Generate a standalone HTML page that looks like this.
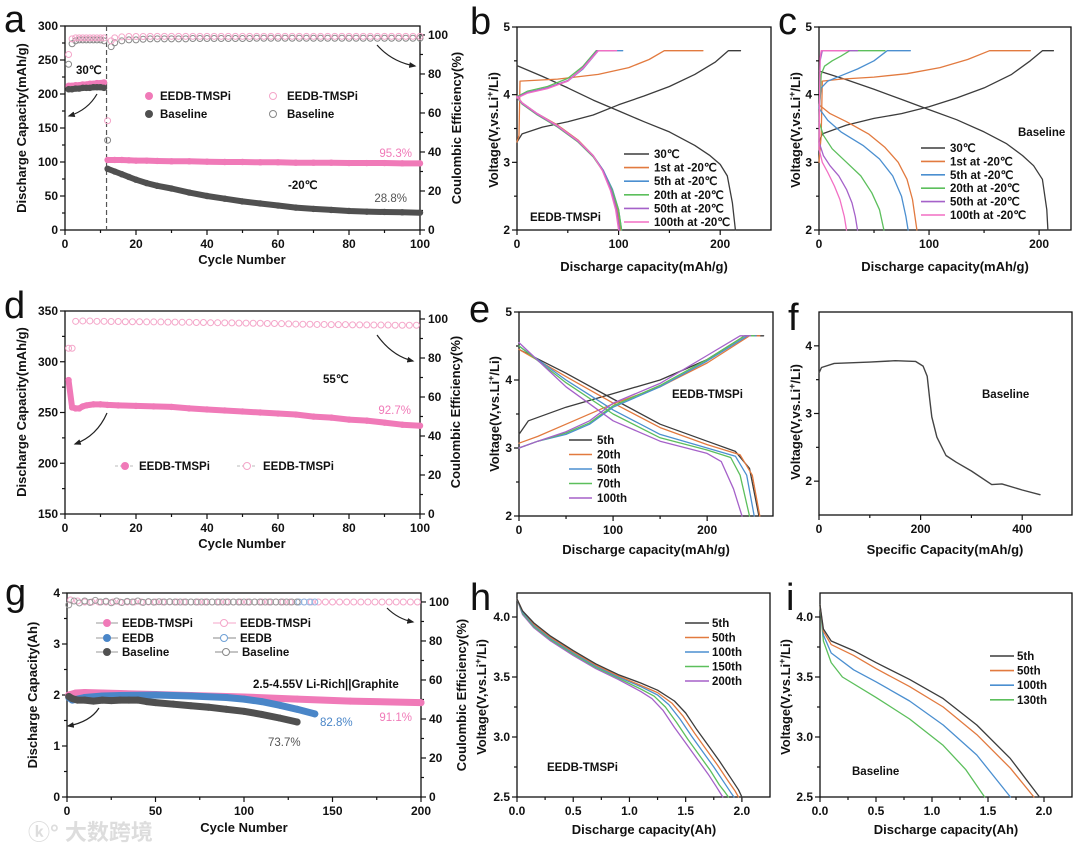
<!DOCTYPE html>
<html><head><meta charset="utf-8"><style>
html,body{margin:0;padding:0;background:#fff}
svg{display:block}
text{font-family:"Liberation Sans",Arial,sans-serif;font-weight:bold;fill:#111}
.lt{font-size:38px;font-weight:normal}
.tt{font-size:13px}
.lg{font-size:11.5px}
</style></head><body>
<svg id="fig" width="1080" height="851" viewBox="0 0 1080 851" xmlns="http://www.w3.org/2000/svg">
<defs><marker id="ah" viewBox="0 0 10 10" refX="8" refY="5" markerWidth="6" markerHeight="6" orient="auto"><path d="M0,1 L10,5 L0,9 z" fill="#222"/></marker></defs>

<text class="lt" x="4" y="32">a</text>
<text class="lt" x="470" y="34">b</text>
<text class="lt" x="778" y="34">c</text>
<text class="lt" x="4" y="318">d</text>
<text class="lt" x="469" y="322">e</text>
<text class="lt" x="788" y="330">f</text>
<text class="lt" x="5" y="605">g</text>
<text class="lt" x="470" y="610">h</text>
<text class="lt" x="786" y="610">i</text>

<text class="tt" x="242" y="264" text-anchor="middle">Cycle Number</text>
<text class="tt" transform="translate(26,128) rotate(-90)" text-anchor="middle">Discharge Capacity(mAh/g)</text>
<text class="tt" transform="translate(461,128) rotate(-90)" text-anchor="middle">Coulombic Efficiency(%)</text>
<text class="tt" x="644" y="271" text-anchor="middle">Discharge capacity(mAh/g)</text>
<text class="tt" transform="translate(498,130) rotate(-90)" text-anchor="middle">Voltage(V,vs.Li<tspan dy="-5" font-size="9">+</tspan><tspan dy="5">/Li)</tspan></text>
<text class="tt" x="945" y="271" text-anchor="middle">Discharge capacity(mAh/g)</text>
<text class="tt" transform="translate(800,130) rotate(-90)" text-anchor="middle">Voltage(V,vs.Li<tspan dy="-5" font-size="9">+</tspan><tspan dy="5">/Li)</tspan></text>
<text class="tt" x="242" y="548" text-anchor="middle">Cycle Number</text>
<text class="tt" transform="translate(26,412) rotate(-90)" text-anchor="middle">Discharge Capacity(mAh/g)</text>
<text class="tt" transform="translate(460,412) rotate(-90)" text-anchor="middle">Coulombic Efficiency(%)</text>
<text class="tt" x="646" y="554" text-anchor="middle">Discharge capacity(mAh/g)</text>
<text class="tt" transform="translate(499,414) rotate(-90)" text-anchor="middle">Voltage(V,vs.Li<tspan dy="-5" font-size="9">+</tspan><tspan dy="5">/Li)</tspan></text>
<text class="tt" x="945" y="554" text-anchor="middle">Specific Capacity(mAh/g)</text>
<text class="tt" transform="translate(800,422) rotate(-90)" text-anchor="middle">Voltage(V,vs.Li<tspan dy="-5" font-size="9">+</tspan><tspan dy="5">/Li)</tspan></text>
<text class="tt" x="244" y="832" text-anchor="middle">Cycle Number</text>
<text class="tt" transform="translate(37,695) rotate(-90)" text-anchor="middle">Discharge Capacity(Ah)</text>
<text class="tt" transform="translate(466,695) rotate(-90)" text-anchor="middle">Coulombic Efficiency(%)</text>
<text class="tt" x="644" y="834" text-anchor="middle">Discharge capacity(Ah)</text>
<text class="tt" transform="translate(486,697) rotate(-90)" text-anchor="middle">Voltage(V,vs.Li<tspan dy="-5" font-size="9">+</tspan><tspan dy="5">/Li)</tspan></text>
<text class="tt" x="946" y="834" text-anchor="middle">Discharge capacity(Ah)</text>
<text class="tt" transform="translate(790,697) rotate(-90)" text-anchor="middle">Voltage(V,vs.Li<tspan dy="-5" font-size="9">+</tspan><tspan dy="5">/Li)</tspan></text>

<text class="lg" x="76" y="74">30℃</text>
<text class="lg" x="288" y="189">-20℃</text>
<text x="412" y="157" font-size="11.5" text-anchor="end" style="fill:#f07ab8;font-weight:normal">95.3%</text>
<text x="407" y="202" font-size="11.5" text-anchor="end" style="fill:#555;font-weight:normal">28.8%</text>
<text class="lg" x="323" y="383">55℃</text>
<text x="411" y="414" font-size="11.5" text-anchor="end" style="fill:#f07ab8;font-weight:normal">92.7%</text>
<text class="lg" x="253" y="688">2.5-4.55V  Li-Rich||Graphite</text>
<text x="412" y="721" font-size="11.5" text-anchor="end" style="fill:#f07ab8;font-weight:normal">91.1%</text>
<text x="320" y="726" font-size="11.5" style="fill:#4a86c8;font-weight:normal">82.8%</text>
<text x="268" y="746" font-size="11.5" style="fill:#555;font-weight:normal">73.7%</text>
<text class="lg" x="530" y="221">EEDB-TMSPi</text>
<text class="lg" x="1018" y="136">Baseline</text>
<text class="lg" x="672" y="398">EEDB-TMSPi</text>
<text class="lg" x="982" y="398">Baseline</text>
<text class="lg" x="547" y="771">EEDB-TMSPi</text>
<text class="lg" x="852" y="775">Baseline</text>

<path d="M97,94 Q88,110 69,116" fill="none" stroke="#222" stroke-width="1.2" marker-end="url(#ah)"/>
<path d="M377,45 Q392,62 415,66" fill="none" stroke="#222" stroke-width="1.2" marker-end="url(#ah)"/>
<path d="M107,413 Q97,436 75,444" fill="none" stroke="#222" stroke-width="1.2" marker-end="url(#ah)"/>
<path d="M377,335 Q392,356 413,361" fill="none" stroke="#222" stroke-width="1.2" marker-end="url(#ah)"/>
<path d="M99,708 Q90,722 68,726" fill="none" stroke="#222" stroke-width="1.2" marker-end="url(#ah)"/>
<path d="M387,608 Q398,619 413,622" fill="none" stroke="#222" stroke-width="1.2" marker-end="url(#ah)"/>

<g>
<circle cx="149" cy="96" r="4" fill="#f07ab8"/><text class="lg" x="160" y="100">EEDB-TMSPi</text>
<circle cx="149" cy="114" r="4" fill="#505050"/><text class="lg" x="160" y="118">Baseline</text>
<circle cx="273" cy="96" r="3.5" fill="#fff" stroke="#f4a6c9"/><text class="lg" x="287" y="100">EEDB-TMSPi</text>
<circle cx="273" cy="114" r="3.5" fill="#fff" stroke="#888"/><text class="lg" x="287" y="118">Baseline</text>
</g>
<g>
<line x1="115" y1="466" x2="135" y2="466" stroke="#bbb" stroke-dasharray="3,2"/><circle cx="125" cy="466" r="4" fill="#f07ab8"/><text class="lg" x="139" y="470">EEDB-TMSPi</text>
<line x1="237" y1="466" x2="257" y2="466" stroke="#bbb" stroke-dasharray="3,2"/><circle cx="247" cy="466" r="3.5" fill="#fff" stroke="#f4a6c9"/><text class="lg" x="263" y="470">EEDB-TMSPi</text>
</g>
<g>
<line x1="96" y1="623" x2="118" y2="623" stroke="#999"/><circle cx="107" cy="623" r="4" fill="#f07ab8"/><text class="lg" x="122" y="627">EEDB-TMSPi</text>
<line x1="96" y1="638" x2="118" y2="638" stroke="#999"/><circle cx="107" cy="638" r="4" fill="#4a86c8"/><text class="lg" x="122" y="642">EEDB</text>
<line x1="96" y1="652" x2="118" y2="652" stroke="#999"/><circle cx="107" cy="652" r="4" fill="#505050"/><text class="lg" x="122" y="656">Baseline</text>
<line x1="213" y1="623" x2="236" y2="623" stroke="#f4a6c9"/><circle cx="224" cy="623" r="3.5" fill="#fff" stroke="#f4a6c9"/><text class="lg" x="240" y="627">EEDB-TMSPi</text>
<line x1="213" y1="638" x2="236" y2="638" stroke="#888"/><circle cx="224" cy="638" r="3.5" fill="#fff" stroke="#6ea0d6"/><text class="lg" x="240" y="642">EEDB</text>
<line x1="215" y1="652" x2="238" y2="652" stroke="#888"/><circle cx="226" cy="652" r="3.5" fill="#fff" stroke="#888"/><text class="lg" x="242" y="656">Baseline</text>
</g>

<text x="28" y="840" font-size="22" style="fill:#ddd;font-family:'Liberation Sans','Noto Sans CJK SC',sans-serif">ⓚ° 大数跨境</text>
</svg>

<script>
const aCyc30 = [1,2,3,4,5,6,7,8,9,10,11];
const aCapT30 = [212,212,213,213,214,214,215,215,216,216,217];
const aCapB30 = [207,207,208,208,209,209,209,210,210,210,209];
const aCyc20 = [12,14,16,18,20,23,26,30,35,40,45,50,55,60,65,70,75,80,85,90,95,100];
const aCapT20 = [103,103,103,102.5,102,102,101.5,101,101,100.5,100,100,99.5,99.5,99,99,99,98.5,98.5,98.5,98,98];
const aCapB20 = [90,86,82,78,74,69,65,61,55,50,46,42,39,36,33,31,29.5,28,27,26.5,26,25.5];
const aCeCyc = [1,2,3,4,5,6,7,8,9,10,11,12,13,14,16,18,20,22,24,26,28,30,32,34,36,38,40,42,44,46,48,50,52,54,56,58,60,62,64,66,68,70,72,74,76,78,80,82,84,86,88,90,92,94,96,98,100];
const aCeT = [90,98,98.5,98.5,98.5,98.5,98.5,98.5,98.5,98.5,98.5,56,97,98.5,99,99.2,99.2,99.2,99.3,99.3,99.3,99.3,99.3,99.3,99.3,99.3,99.3,99.3,99.3,99.3,99.3,99.3,99.3,99.3,99.3,99.3,99.3,99.3,99.3,99.3,99.3,99.3,99.3,99.3,99.3,99.3,99.3,99.3,99.3,99.3,99.3,99.3,99.3,99.3,99.3,99.3,99.3];
const aCeB = [85,95.5,97,97.5,97.5,97.5,97.5,97.5,97.5,97.5,97,46,94,96,97,97.5,97.5,97.8,98,98,98,98,98,98,98.2,98.2,98.2,98.2,98.2,98.2,98.2,98.2,98.2,98.3,98.3,98.3,98.3,98.3,98.3,98.3,98.3,98.3,98.3,98.3,98.3,98.3,98.3,98.3,98.3,98.3,98.3,98.3,98.3,98.3,98.3,98.3,98.3];
const aXTicks = [0,20,40,60,80,100];
const aYTicks = [0,50,100,150,200,250,300];
const aY2Ticks = [0,20,40,60,80,100];

const b30Dis = [[0,4.43],[25,4.27],[50,4.1],[75,3.92],[100,3.76],[125,3.6],[150,3.45],[175,3.25],[190,3.1],[200,2.97],[207,2.8],[212,2.4],[215,2.0]];
const b30Chg = [[0,3.3],[5,3.42],[25,3.52],[50,3.6],[75,3.7],[100,3.85],[125,3.98],[150,4.12],[175,4.3],[195,4.48],[208,4.65],[220,4.65]];
const b1Chg = [[0,3.3],[2,3.4],[3,4.2],[40,4.23],[80,4.3],[110,4.4],[130,4.52],[145,4.65],[183,4.65]];
const b1Dis = [[0,3.98],[5,3.88],[20,3.72],[40,3.55],[60,3.33],[75,3.1],[85,2.88],[93,2.6],[99,2.3],[102,2.0]];
const b5Chg = [[0,3.95],[10,4.03],[30,4.1],[50,4.2],[65,4.38],[80,4.65],[104,4.65]];
const b5Dis = [[0,3.97],[5,3.88],[20,3.72],[40,3.54],[60,3.32],[75,3.1],[85,2.88],[94,2.6],[100,2.3],[103,2.0]];
const b20Chg = [[0,3.97],[10,4.05],[30,4.12],[50,4.24],[65,4.42],[78,4.65],[90,4.65]];
const b20Dis = [[0,3.96],[5,3.86],[20,3.7],[40,3.52],[60,3.3],[75,3.08],[85,2.86],[94,2.58],[100,2.3],[103,2.0]];
const b50Chg = [[0,3.96],[10,4.03],[30,4.1],[50,4.21],[65,4.4],[79,4.65],[95,4.65]];
const b50Dis = [[0,3.97],[5,3.87],[20,3.71],[40,3.53],[60,3.31],[75,3.09],[85,2.87],[93,2.58],[98,2.3],[101,2.0]];
const b100Chg = [[0,3.95],[10,4.02],[30,4.09],[50,4.2],[65,4.39],[80,4.65],[98,4.65]];
const b100Dis = [[0,3.97],[5,3.88],[20,3.72],[40,3.54],[60,3.32],[75,3.1],[84,2.88],[92,2.58],[97,2.3],[100,2.0]];
const bXTicks = [0,100,200];
const bYTicks = [2,3,4,5];

const c30Dis = [[0,4.35],[25,4.22],[50,4.08],[75,3.93],[100,3.78],[125,3.63],[150,3.45],[170,3.28],[185,3.1],[195,2.95],[203,2.75],[207,2.3],[208,2.0]];
const c30Chg = [[0,3.3],[3,3.42],[25,3.55],[50,3.65],[75,3.72],[100,3.82],[125,3.95],[150,4.1],[175,4.3],[192,4.5],[203,4.65],[213,4.65]];
const c1Chg = [[0,3.0],[2,3.4],[3,4.2],[20,4.23],[50,4.26],[80,4.31],[110,4.4],[135,4.52],[155,4.65],[192,4.65]];
const c1Dis = [[0,3.85],[10,3.72],[25,3.6],[45,3.42],[60,3.22],[72,3.0],[80,2.75],[85,2.45],[89,2.0]];
const c5Chg = [[0,3.8],[2,4.1],[8,4.2],[20,4.28],[35,4.38],[50,4.5],[62,4.65],[83,4.65]];
const c5Dis = [[0,3.8],[8,3.62],[20,3.45],[40,3.25],[55,3.05],[67,2.8],[75,2.5],[79,2.2],[81,2.0]];
const c20Chg = [[0,3.6],[2,4.3],[5,4.42],[12,4.5],[20,4.57],[28,4.65],[60,4.65]];
const c20Dis = [[0,3.6],[4,3.4],[12,3.2],[25,3.0],[38,2.8],[48,2.55],[55,2.3],[59,2.0]];
const c50Chg = [[0,3.3],[1,4.5],[3,4.65],[35,4.65]];
const c50Dis = [[0,3.3],[4,3.1],[10,2.95],[18,2.8],[25,2.6],[30,2.4],[33,2.2],[35,2.0]];
const c100Chg = [[0,3.2],[1,4.55],[2,4.65],[26,4.65]];
const c100Dis = [[0,3.2],[3,3.0],[8,2.85],[14,2.65],[19,2.45],[23,2.2],[25,2.0]];

const dCyc = [1,2,3,4,5,6,8,10,12,15,20,25,30,35,40,45,50,55,60,65,70,75,80,85,90,95,100];
const dCap = [282,255,254,254,256,257,258,258,257.5,257,256.5,256,255.5,254,253,252,251,250,249,248,246,245,243,242,240,238,237];
const dCeCyc = [1,2,3,5,7,9,11,13,15,17,19,21,23,25,27,29,31,33,35,37,39,41,43,45,47,49,51,53,55,57,59,61,63,65,67,69,71,73,75,77,79,81,83,85,87,89,91,93,95,97,99];
const dCe = [85,85,98.8,99,99,98.8,98.8,98.7,98.7,98.6,98.6,98.6,98.5,98.5,98.5,98.4,98.4,98.3,98.3,98.2,98.2,98.1,98.1,98,98,97.9,97.9,97.8,97.8,97.7,97.7,97.6,97.5,97.4,97.3,97.3,97.2,97.2,97.1,97.1,97.1,97,97,97,96.9,96.9,96.9,96.8,96.8,96.8,96.8];
const dXTicks = [0,20,40,60,80,100];
const dYTicks = [150,200,250,300,350];
const dY2Ticks = [0,20,40,60,80,100];

const e5Chg = [[0,3.2],[10,3.4],[50,3.6],[100,3.8],[150,4.0],[200,4.3],[240,4.65],[260,4.65]];
const e20Chg = [[0,3.07],[20,3.17],[50,3.35],[100,3.65],[150,3.9],[200,4.25],[245,4.65],[256,4.65]];
const e50Chg = [[0,3.0],[20,3.1],[50,3.2],[75,3.35],[100,3.6],[150,3.9],[200,4.28],[243,4.65],[252,4.65]];
const e70Chg = [[0,3.0],[20,3.1],[50,3.22],[75,3.37],[100,3.62],[150,3.92],[200,4.3],[240,4.65],[250,4.65]];
const e100Chg = [[0,3.0],[20,3.1],[50,3.24],[75,3.4],[100,3.66],[150,3.95],[200,4.36],[235,4.65],[246,4.65]];
const e5Dis = [[0,4.45],[50,4.1],[100,3.72],[150,3.35],[200,3.1],[230,2.95],[245,2.7],[255,2.0]];
const e20Dis = [[0,4.45],[50,4.05],[100,3.66],[150,3.3],[200,3.05],[235,2.9],[248,2.6],[256,2.0]];
const e50Dis = [[0,4.5],[50,4.0],[100,3.56],[150,3.2],[200,3.0],[230,2.88],[242,2.6],[250,2.0]];
const e70Dis = [[0,4.5],[50,3.96],[100,3.5],[150,3.15],[200,2.97],[225,2.86],[235,2.6],[245,2.0]];
const e100Dis = [[0,4.55],[50,3.9],[100,3.4],[150,3.1],[200,2.92],[215,2.8],[228,2.4],[237,2.0]];

const fCurve = [[0,3.6],[5,3.68],[30,3.74],[100,3.76],[150,3.78],[190,3.77],[205,3.7],[213,3.55],[218,3.2],[222,2.95],[232,2.65],[250,2.38],[270,2.28],[300,2.15],[340,1.95],[360,1.96],[400,1.87],[435,1.8]];
const fXTicks = [0,200,400];
const fYTicks = [2,3,4];

const gCycT = [1,5,10,20,30,50,70,100,130,160,200];
const gCapT = [2.0,2.04,2.05,2.04,2.03,2.01,1.99,1.96,1.92,1.88,1.85];
const gCycE = [1,3,6,10,20,30,50,70,90,100,110,120,130,140];
const gCapE = [1.95,1.9,1.92,1.95,1.98,1.99,2.0,1.98,1.95,1.92,1.87,1.8,1.72,1.63];
const gCycB = [1,3,6,10,15,20,25,30,35,40,45,50,60,70,80,90,100,110,120,130];
const gCapB = [1.97,1.93,1.9,1.9,1.88,1.9,1.89,1.9,1.9,1.9,1.87,1.85,1.82,1.79,1.76,1.72,1.68,1.62,1.55,1.47];
const gCeCycT = [2,6,10,14,18,22,26,30,34,38,42,46,50,54,58,62,66,70,74,78,82,86,90,94,98,102,106,110,114,118,122,126,130,134,138,142,146,150,154,158,162,166,170,174,178,182,186,190,194,198];
const gCeT = [101,100.5,100,100,100,100,100,100,100,100,100,100,100,100,100,100,100,100,100,100,100,100,100,100,100,100,100,100,100,100,100,100,100,100,100,100,100,100,100,100,100,100,100,100,100,100,100,100,100,100];
const gCeCycB = [1,4,7,10,13,16,19,22,25,28,31,34,37,40,43,46,49,52,55,58,61,64,67,70,73,76,79,82,85,88,91,94,97,100,103,106,109,112,115,118,121,124,127,130];
const gCeB = [98.5,100.5,99.5,100.5,99.8,100.8,100,100.4,99.6,100.5,99.7,100.3,100,100.5,99.8,100.2,99.9,100.1,100,100.1,100,100,100,100,100,100,100,100,100,100,100,100,100,100,100,100,100,100,100,100,100,100,100,100];
const gCeCycE = [131,134,137,140];
const gCeE = [100,100,100,100];
const gXTicks = [0,50,100,150,200];
const gYTicks = [0,1,2,3,4];
const gY2Ticks = [0,20,40,60,80,100];

const h5 = [[0,4.15],[0.05,4.05],[0.15,3.95],[0.3,3.84],[0.5,3.72],[0.7,3.61],[0.9,3.52],[1.1,3.45],[1.25,3.39],[1.4,3.3],[1.5,3.2],[1.6,3.06],[1.7,2.93],[1.8,2.8],[1.9,2.66],[1.97,2.56],[2.0,2.5]];
const h50 = [[0,4.15],[0.05,4.05],[0.15,3.94],[0.3,3.83],[0.5,3.71],[0.7,3.6],[0.9,3.51],[1.1,3.43],[1.25,3.37],[1.38,3.28],[1.48,3.17],[1.58,3.03],[1.68,2.9],[1.78,2.77],[1.88,2.63],[1.94,2.55],[1.97,2.5]];
const h100 = [[0,4.15],[0.05,4.04],[0.15,3.93],[0.3,3.82],[0.5,3.7],[0.7,3.59],[0.9,3.5],[1.1,3.42],[1.25,3.35],[1.35,3.27],[1.45,3.15],[1.55,3.01],[1.65,2.88],[1.75,2.75],[1.85,2.61],[1.9,2.54],[1.93,2.5]];
const h150 = [[0,4.15],[0.05,4.03],[0.15,3.92],[0.3,3.81],[0.5,3.69],[0.7,3.58],[0.9,3.49],[1.1,3.4],[1.22,3.34],[1.32,3.25],[1.42,3.12],[1.52,2.98],[1.62,2.85],[1.72,2.72],[1.8,2.6],[1.85,2.54],[1.88,2.5]];
const h200 = [[0,4.15],[0.05,4.02],[0.15,3.91],[0.3,3.8],[0.5,3.68],[0.7,3.57],[0.9,3.48],[1.1,3.38],[1.2,3.32],[1.3,3.22],[1.4,3.08],[1.5,2.95],[1.6,2.82],[1.7,2.69],[1.77,2.59],[1.81,2.53],[1.83,2.5]];
const hXTicks = [0,0.5,1.0,1.5,2.0];
const hYTicks = [2.5,3.0,3.5,4.0];

const i5 = [[0,4.1],[0.03,3.9],[0.1,3.8],[0.3,3.72],[0.5,3.62],[0.8,3.48],[1.1,3.32],[1.4,3.1],[1.7,2.82],[1.96,2.5]];
const i50 = [[0,4.1],[0.03,3.88],[0.1,3.77],[0.3,3.68],[0.5,3.57],[0.8,3.42],[1.1,3.25],[1.4,3.02],[1.7,2.74],[1.91,2.5]];
const i100 = [[0,4.1],[0.03,3.85],[0.1,3.7],[0.3,3.56],[0.5,3.46],[0.8,3.3],[1.1,3.1],[1.4,2.85],[1.7,2.5]];
const i130 = [[0,4.1],[0.03,3.8],[0.1,3.62],[0.2,3.5],[0.5,3.33],[0.8,3.15],[1.1,2.93],[1.3,2.73],[1.47,2.5]];

const G = {
 a:{L:65,R:420,T:26,B:230,xmin:0,xmax:100,ymin:0,ymax:300,y2max:104.6},
 b:{L:517,R:771,T:27,B:230,xmin:0,xmax:250,ymin:2,ymax:5},
 c:{L:819,R:1071,T:27,B:230,xmin:0,xmax:229,ymin:2,ymax:5},
 d:{L:65,R:420,T:311,B:514,xmin:0,xmax:100,ymin:150,ymax:350,y2max:104.1},
 e:{L:519,R:773,T:312,B:516,xmin:0,xmax:270,ymin:2,ymax:5},
 f:{L:819,R:1072,T:312,B:515,xmin:0,xmax:498,ymin:1.5,ymax:4.5},
 g:{L:67,R:421,T:593,B:797,xmin:0,xmax:200,ymin:0,ymax:4,y2max:104.6},
 h:{L:517,R:770,T:593,B:797,xmin:0,xmax:2.25,ymin:2.5,ymax:4.2},
 i:{L:820,R:1072,T:593,B:797,xmin:0,xmax:2.25,ymin:2.5,ymax:4.2}
};
const NS='http://www.w3.org/2000/svg';
const svg=document.getElementById('fig');
function mk(tag){const e=document.createElementNS(NS,tag);svg.appendChild(e);return e;}
function sx(p,v){return p.L+(v-p.xmin)/(p.xmax-p.xmin)*(p.R-p.L);}
function sy(p,v){return p.B-(v-p.ymin)/(p.ymax-p.ymin)*(p.B-p.T);}
function sy2(p,v){return p.B-v/p.y2max*(p.B-p.T);}
function mids(t){const m=[];for(let k=0;k<t.length-1;k++)m.push((t[k]+t[k+1])/2);return m;}

function frame(p,name,xt,yt,xdec,ydec,y2t){
  const r=mk('rect');
  
  
  r.setAttribute('x',p.L);r.setAttribute('y',p.T);r.setAttribute('width',p.R-p.L);r.setAttribute('height',p.B-p.T);
  r.setAttribute('fill','none');r.setAttribute('stroke','#111');r.setAttribute('stroke-width','1.3');
  const xs=xt.concat(mids(xt));
  xs.forEach((v,k)=>{const l=mk('line');
    
    
    const X=sx(p,v);l.setAttribute('x1',X);l.setAttribute('x2',X);l.setAttribute('y1',p.B);l.setAttribute('y2',p.B+(k<xt.length?5:3));l.setAttribute('stroke','#111');l.setAttribute('stroke-width','1.2');});
  xt.forEach(v=>{const t=mk('text');
    
    
    t.setAttribute('x',sx(p,v));t.setAttribute('y',p.B+18);t.setAttribute('text-anchor','middle');t.setAttribute('font-size','12');t.textContent=v.toFixed(xdec);});
  const ys=yt.concat(mids(yt));
  ys.forEach((v,k)=>{const l=mk('line');
    
    
    const Y=sy(p,v);l.setAttribute('y1',Y);l.setAttribute('y2',Y);l.setAttribute('x1',p.L);l.setAttribute('x2',p.L-(k<yt.length?5:3));l.setAttribute('stroke','#111');l.setAttribute('stroke-width','1.2');});
  yt.forEach(v=>{const t=mk('text');
    
    
    t.setAttribute('x',p.L-7);t.setAttribute('y',sy(p,v)+4);t.setAttribute('text-anchor','end');t.setAttribute('font-size','12');t.textContent=v.toFixed(ydec);});
  if(y2t){
    const y2s=y2t.concat(mids(y2t));
    y2s.forEach((v,k)=>{const l=mk('line');
      
      
      const Y=sy2(p,v);l.setAttribute('y1',Y);l.setAttribute('y2',Y);l.setAttribute('x1',p.R);l.setAttribute('x2',p.R+(k<y2t.length?5:3));l.setAttribute('stroke','#111');l.setAttribute('stroke-width','1.2');});
    y2t.forEach(v=>{const t=mk('text');
      
      
      t.setAttribute('x',p.R+8);t.setAttribute('y',sy2(p,v)+4);t.setAttribute('font-size','12');t.textContent=String(v);});
  }
}
function curve(p,pts,color,w,name){
  const e=mk('polyline');
  
  
  e.setAttribute('points',pts.map(q=>sx(p,q[0]).toFixed(1)+','+sy(p,q[1]).toFixed(1)).join(' '));
  e.setAttribute('fill','none');e.setAttribute('stroke',color);e.setAttribute('stroke-width',w);
  e.setAttribute('stroke-linejoin','round');e.setAttribute('stroke-linecap','round');
}
function band(p,xs,ys,color,w,r,name){
  const e=mk('polyline');
  
  
  e.setAttribute('points',xs.map((x,k)=>sx(p,x).toFixed(1)+','+sy(p,ys[k]).toFixed(1)).join(' '));
  e.setAttribute('fill','none');e.setAttribute('stroke',color);e.setAttribute('stroke-width',w);
  e.setAttribute('stroke-linejoin','round');e.setAttribute('stroke-linecap','round');
  xs.forEach((x,k)=>{const c=mk('circle');
    
    
    c.setAttribute('cx',sx(p,x));c.setAttribute('cy',sy(p,ys[k]));c.setAttribute('r',r);c.setAttribute('fill',color);});
}
function rings(p,xs,ys,color,r,name){
  xs.forEach((x,k)=>{const c=mk('circle');
    
    
    c.setAttribute('cx',sx(p,x));c.setAttribute('cy',sy2(p,ys[k]));c.setAttribute('r',r);
    c.setAttribute('fill','none');c.setAttribute('stroke',color);c.setAttribute('stroke-width','1');});
}
const GR='#3c3c3c',OR='#e27a3f',BL='#4b8fd0',GN='#5cbf5c',PU='#a561c9',PK='#f26fc4';

frame(G.a,'a',aXTicks,aYTicks,0,0,aY2Ticks);
(function(){const l=mk('line');
 
 
 const X=sx(G.a,11.7);l.setAttribute('x1',X);l.setAttribute('x2',X);l.setAttribute('y1',G.a.T);l.setAttribute('y2',G.a.B);
 l.setAttribute('stroke','#555');l.setAttribute('stroke-dasharray','5,3');l.setAttribute('stroke-width','1.2');})();
rings(G.a,aCeCyc,aCeB,'#888',3,'a-ce-baseline');
rings(G.a,aCeCyc,aCeT,'#f4a6c9',3,'a-ce-tmspi');
band(G.a,aCyc30,aCapT30,'#f07ab8',6,3.2,'a-cap-tmspi-30c');
band(G.a,aCyc30,aCapB30,'#505050',6,3.2,'a-cap-baseline-30c');
band(G.a,aCyc20,aCapT20,'#f07ab8',6,3.2,'a-cap-tmspi-minus20c');
band(G.a,aCyc20,aCapB20,'#505050',6,3.2,'a-cap-baseline-minus20c');

frame(G.b,'b',bXTicks,bYTicks,0,0);
curve(G.b,b30Dis,GR,1.3,'b-30c-discharge');curve(G.b,b30Chg,GR,1.3,'b-30c-charge');
curve(G.b,b1Chg,OR,1.3,'b-1st-charge');curve(G.b,b1Dis,OR,1.3,'b-1st-discharge');
curve(G.b,b5Chg,BL,1.3,'b-5th-charge');curve(G.b,b5Dis,BL,1.3,'b-5th-discharge');
curve(G.b,b20Chg,GN,1.3,'b-20th-charge');curve(G.b,b20Dis,GN,1.3,'b-20th-discharge');
curve(G.b,b50Chg,PU,1.3,'b-50th-charge');curve(G.b,b50Dis,PU,1.3,'b-50th-discharge');
curve(G.b,b100Chg,PK,1.3,'b-100th-charge');curve(G.b,b100Dis,PK,1.3,'b-100th-discharge');

frame(G.c,'c',bXTicks,bYTicks,0,0);
curve(G.c,c30Dis,GR,1.3,'c-30c-discharge');curve(G.c,c30Chg,GR,1.3,'c-30c-charge');
curve(G.c,c1Chg,OR,1.3,'c-1st-charge');curve(G.c,c1Dis,OR,1.3,'c-1st-discharge');
curve(G.c,c5Chg,BL,1.3,'c-5th-charge');curve(G.c,c5Dis,BL,1.3,'c-5th-discharge');
curve(G.c,c20Chg,GN,1.3,'c-20th-charge');curve(G.c,c20Dis,GN,1.3,'c-20th-discharge');
curve(G.c,c50Chg,PU,1.3,'c-50th-charge');curve(G.c,c50Dis,PU,1.3,'c-50th-discharge');
curve(G.c,c100Chg,PK,1.3,'c-100th-charge');curve(G.c,c100Dis,PK,1.3,'c-100th-discharge');

frame(G.d,'d',dXTicks,dYTicks,0,0,dY2Ticks);
rings(G.d,dCeCyc,dCe,'#f4a6c9',3,'d-ce-tmspi');
band(G.d,dCyc,dCap,'#f07ab8',6,3.2,'d-cap-tmspi');

frame(G.e,'e',bXTicks,bYTicks,0,0);
curve(G.e,e5Chg,GR,1.3,'e-5th-charge');curve(G.e,e5Dis,GR,1.3,'e-5th-discharge');
curve(G.e,e20Chg,OR,1.3,'e-20th-charge');curve(G.e,e20Dis,OR,1.3,'e-20th-discharge');
curve(G.e,e50Chg,BL,1.3,'e-50th-charge');curve(G.e,e50Dis,BL,1.3,'e-50th-discharge');
curve(G.e,e70Chg,GN,1.3,'e-70th-charge');curve(G.e,e70Dis,GN,1.3,'e-70th-discharge');
curve(G.e,e100Chg,PU,1.3,'e-100th-charge');curve(G.e,e100Dis,PU,1.3,'e-100th-discharge');

frame(G.f,'f',fXTicks,fYTicks,0,0);
curve(G.f,fCurve,'#444',1.4,'f-baseline-curve');

frame(G.g,'g',gXTicks,gYTicks,0,0,gY2Ticks);
rings(G.g,gCeCycT,gCeT,'#f4a6c9',3,'g-ce-tmspi');
rings(G.g,gCeCycE,gCeE,'#8fb5e0',3,'g-ce-eedb');
rings(G.g,gCeCycB,gCeB,'#999',3,'g-ce-baseline');
band(G.g,gCycT,gCapT,'#f07ab8',7,3.5,'g-cap-tmspi');
band(G.g,gCycE,gCapE,'#4a86c8',7,3.5,'g-cap-eedb');
band(G.g,gCycB,gCapB,'#505050',7,3.5,'g-cap-baseline');

frame(G.h,'h',hXTicks,hYTicks,1,1);
curve(G.h,h200,PU,1.3,'h-200th');curve(G.h,h150,GN,1.3,'h-150th');curve(G.h,h100,BL,1.3,'h-100th');
curve(G.h,h50,OR,1.3,'h-50th');curve(G.h,h5,GR,1.3,'h-5th');

frame(G.i,'i',hXTicks,hYTicks,1,1);
curve(G.i,i130,GN,1.3,'i-130th');curve(G.i,i100,BL,1.3,'i-100th');
curve(G.i,i50,OR,1.3,'i-50th');curve(G.i,i5,GR,1.3,'i-5th');

function lineLegend(x1,x2,tx,y0,dy,labels,colors,name){
  labels.forEach((s,k)=>{const y=y0+k*dy;
    const l=mk('line');
    
    
    l.setAttribute('x1',x1);l.setAttribute('x2',x2);l.setAttribute('y1',y);l.setAttribute('y2',y);l.setAttribute('stroke',colors[k]);l.setAttribute('stroke-width','1.6');
    const t=mk('text');
    
    
    t.setAttribute('x',tx);t.setAttribute('y',y+4);t.setAttribute('font-size','11.5');t.textContent=s;});
}
const bLegendLabels=['30℃','1st at -20℃','5th at -20℃','20th at -20℃','50th at -20℃','100th  at -20℃'];
const cLegendLabels=['30℃','1st at -20℃','5th at -20℃','20th at -20℃','50th at -20℃','100th at -20℃'];
const eLegendLabels=['5th','20th','50th','70th','100th'];
const hLegendLabels=['5th','50th','100th','150th','200th'];
const iLegendLabels=['5th','50th','100th','130th'];
lineLegend(624,649,654,154,13.6,bLegendLabels,[GR,OR,BL,GN,PU,PK],'b-legend');
lineLegend(921,945,950,148,13.4,cLegendLabels,[GR,OR,BL,GN,PU,PK],'c-legend');
lineLegend(569,592,597,440,14.5,eLegendLabels,[GR,OR,BL,GN,PU],'e-legend');
lineLegend(685,709,712,623,14.5,hLegendLabels,[GR,OR,BL,GN,PU],'h-legend');
lineLegend(990,1014,1017,656,14.6,iLegendLabels,[GR,OR,BL,GN],'i-legend');
</script>
</body></html>
